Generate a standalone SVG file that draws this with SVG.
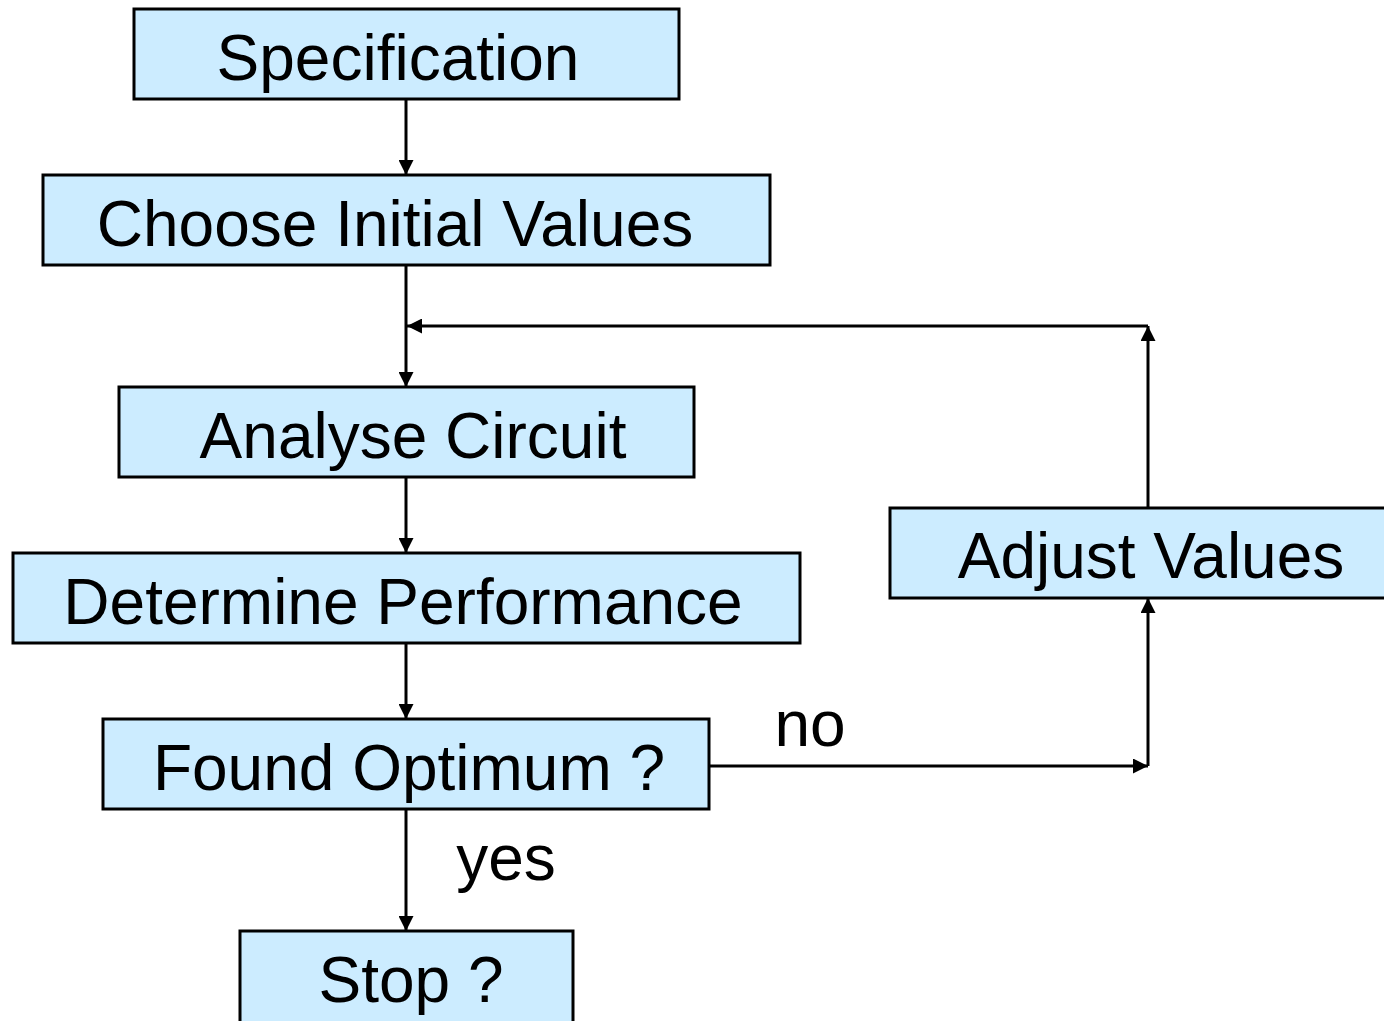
<svg xmlns="http://www.w3.org/2000/svg" width="1384" height="1021" viewBox="0 0 1384 1021">
<style>
.box{fill:#CCECFF;stroke:#000;stroke-width:3}
.lbl{font-family:"Liberation Sans",Arial,sans-serif;font-size:64px;fill:#000;text-anchor:middle}
.edge{fill:none;stroke:#000;stroke-width:3}
</style>
<defs>
<marker id="ah" viewBox="0 0 10 10" refX="10" refY="5" markerWidth="5.5" markerHeight="5" orient="auto" markerUnits="strokeWidth">
<path d="M0,0 L10,5 L0,10 z" fill="#000"/>
</marker>
</defs>
<rect width="1384" height="1021" fill="#fff"/>
<g id="connectors">
<path class="edge" d="M406,99 V175" marker-end="url(#ah)"/>
<path class="edge" d="M406,265 V387" marker-end="url(#ah)"/>
<path class="edge" d="M1148,326 H407" marker-end="url(#ah)"/>
<path class="edge" d="M1148,508 V326" marker-end="url(#ah)"/>
<path class="edge" d="M406,477 V553" marker-end="url(#ah)"/>
<path class="edge" d="M406,643 V719" marker-end="url(#ah)"/>
<path class="edge" d="M406,809 V931" marker-end="url(#ah)"/>
<path class="edge" d="M709,766 H1148" marker-end="url(#ah)"/>
<path class="edge" d="M1148,766 V598" marker-end="url(#ah)"/>
<text class="lbl" x="810" y="746">no</text>
<text class="lbl" x="506" y="880">yes</text>
</g>
<g id="specification"><rect class="box" x="134" y="9" width="545" height="90"/><text class="lbl" x="398" y="80">Specification</text></g>
<g id="choose"><rect class="box" x="43" y="175" width="727" height="90"/><text class="lbl" x="395" y="246">Choose Initial Values</text></g>
<g id="analyse"><rect class="box" x="119" y="387" width="575" height="90"/><text class="lbl" x="413" y="458">Analyse Circuit</text></g>
<g id="determine"><rect class="box" x="13" y="553" width="787" height="90"/><text class="lbl" x="403" y="624">Determine Performance</text></g>
<g id="found"><rect class="box" x="103" y="719" width="606" height="90"/><text class="lbl" x="409" y="790">Found Optimum ?</text></g>
<g id="stop"><rect class="box" x="240" y="931" width="333" height="100"/><text class="lbl" x="411" y="1002">Stop ?</text></g>
<g id="adjust"><rect class="box" x="890" y="508" width="510" height="90"/><text class="lbl" x="1151" y="578">Adjust Values</text></g>
</svg>
